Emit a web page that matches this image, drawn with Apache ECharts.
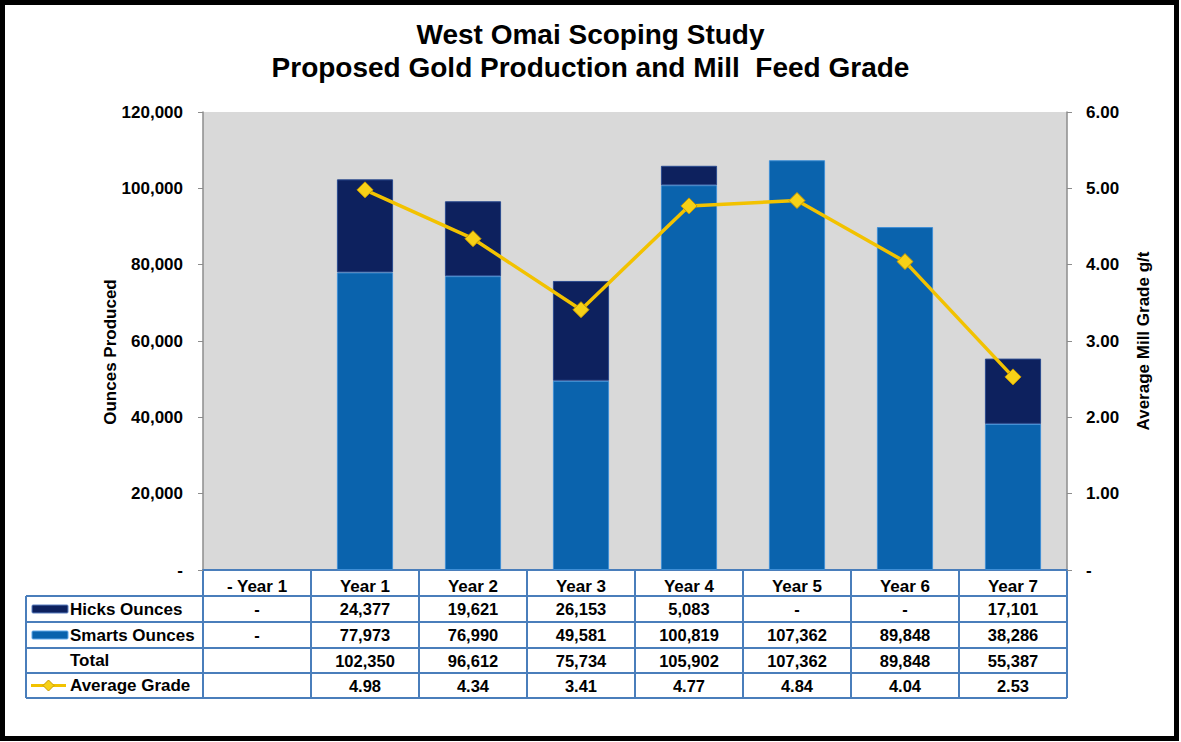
<!DOCTYPE html>
<html>
<head>
<meta charset="utf-8">
<script src="https://cdn.jsdelivr.net/npm/echarts@6/dist/echarts.min.js"></script>
<style>
  html, body { margin: 0; padding: 0; background: #fff; }
  #main { width: 1181px; height: 742px; }
</style>
</head>
<body>
<div id="main"></div>
<script>
// data
var years = ['- Year 1', 'Year 1', 'Year 2', 'Year 3', 'Year 4', 'Year 5', 'Year 6', 'Year 7'];
var hicksOz = [0, 24377, 19621, 26153, 5083, 0, 0, 17101];
var smartsOz = [0, 77973, 76990, 49581, 100819, 107362, 89848, 38286];
var totalOz = [null, 102350, 96612, 75734, 105902, 107362, 89848, 55387];
var avgGrade = [null, 4.98, 4.34, 3.41, 4.77, 4.84, 4.04, 2.53];

var FONT = 'Liberation Sans, Arial, sans-serif';
var gridLeft = 203, gridRight = 1067, gridTop = 112, gridBottom = 570;
var colW = (gridRight - gridLeft) / years.length;
var rowY = [570, 596, 622, 648, 673, 698];
var tableBlue = '#4a7ebb';
var navy = '#0d215e', blue = '#0a63ad', gold = '#f2c200';

function fmtOz(v) {
  if (v === null) return '';
  if (v === 0) return '-';
  return v.toLocaleString('en-US');
}
function fmtGrade(v) {
  return v === null ? '' : v.toFixed(2);
}
// zero segments are not drawn at all
function barData(arr) {
  return arr.map(function (v) { return v === 0 ? '-' : v; });
}

var chart = echarts.init(document.getElementById('main'), null, { renderer: 'svg' });

var graphics = [];
// outer frame
graphics.push({
  type: 'rect', shape: { x: 2.5, y: 2.5, width: 1174, height: 736 },
  style: { fill: 'none', stroke: '#000', lineWidth: 5 }, z: 10
});
// axis titles
graphics.push({
  type: 'text', x: 110, y: 352, rotation: Math.PI / 2,
  style: { text: 'Ounces Produced', font: 'bold 17px ' + FONT, fill: '#000', align: 'center', verticalAlign: 'middle' }
});
graphics.push({
  type: 'text', x: 1143, y: 341, rotation: Math.PI / 2,
  style: { text: 'Average Mill Grade g/t', font: 'bold 17px ' + FONT, fill: '#000', align: 'center', verticalAlign: 'middle' }
});

// data table lines
var lineStyle = { stroke: tableBlue, lineWidth: 2 };
graphics.push({ type: 'line', shape: { x1: gridLeft, y1: rowY[0], x2: gridRight, y2: rowY[0] }, style: lineStyle });
for (var r = 1; r < rowY.length; r++) {
  graphics.push({ type: 'line', shape: { x1: 26, y1: rowY[r], x2: gridRight, y2: rowY[r] }, style: lineStyle });
}
graphics.push({ type: 'line', shape: { x1: 26, y1: rowY[1], x2: 26, y2: rowY[5] }, style: lineStyle });
for (var c = 0; c <= years.length; c++) {
  var x = gridLeft + c * colW;
  graphics.push({ type: 'line', shape: { x1: x, y1: rowY[0], x2: x, y2: rowY[5] }, style: lineStyle });
}

// row labels + legend keys
var rowLabels = ['Hicks Ounces', 'Smarts Ounces', 'Total', 'Average Grade'];
for (var i = 0; i < rowLabels.length; i++) {
  var cy = (rowY[i + 1] + rowY[i + 2]) / 2;
  graphics.push({
    type: 'text', x: 70, y: cy,
    style: { text: rowLabels[i], font: 'bold 17px ' + FONT, fill: '#000', align: 'left', verticalAlign: 'middle' }
  });
}
graphics.push({ type: 'rect', shape: { x: 32, y: 605, width: 36, height: 8, r: 1 }, style: { fill: navy, stroke: '#5a7fc0', lineWidth: 1 } });
graphics.push({ type: 'rect', shape: { x: 32, y: 631, width: 36, height: 8, r: 1 }, style: { fill: blue, stroke: '#5fa8e8', lineWidth: 1 } });
graphics.push({ type: 'line', shape: { x1: 31, y1: 685.5, x2: 66, y2: 685.5 }, style: { stroke: gold, lineWidth: 3 } });
graphics.push({ type: 'polygon', shape: { points: [[48.5, 680], [54, 685.5], [48.5, 691], [43, 685.5]] }, style: { fill: '#f7d117', stroke: '#c99a00', lineWidth: 1 } });

// cell values
var rows = [
  hicksOz.map(function (v, k) { return k === 0 ? '-' : fmtOz(v); }),
  smartsOz.map(function (v, k) { return k === 0 ? '-' : fmtOz(v); }),
  totalOz.map(fmtOz),
  avgGrade.map(fmtGrade)
];
for (var rr = 0; rr < rows.length; rr++) {
  var yy = (rowY[rr + 1] + rowY[rr + 2]) / 2;
  for (var cc = 0; cc < years.length; cc++) {
    graphics.push({
      type: 'text', x: gridLeft + (cc + 0.5) * colW, y: yy,
      style: { text: rows[rr][cc], font: 'bold 16.5px ' + FONT, fill: '#000', align: 'center', verticalAlign: 'middle' }
    });
  }
}

var option = {
  backgroundColor: '#fff',
  animation: false,
  title: {
    text: 'West Omai Scoping Study\nProposed Gold Production and Mill  Feed Grade',
    left: 'center', top: 13,
    textStyle: { fontFamily: FONT, fontSize: 28, fontWeight: 'bold', color: '#000', lineHeight: 33 }
  },
  grid: {
    left: gridLeft, right: 1181 - gridRight, top: gridTop, bottom: 742 - gridBottom,
    show: true, backgroundColor: '#d9d9d9', borderWidth: 0
  },
  xAxis: {
    type: 'category',
    data: years,
    axisLine: { lineStyle: { color: tableBlue, width: 2 } },
    axisTick: { show: false },
    axisLabel: { margin: 8, fontFamily: FONT, fontSize: 17, fontWeight: 'bold', color: '#000' }
  },
  yAxis: [
    {
      type: 'value', min: 0, max: 120000, interval: 20000,
      axisLine: { show: true, lineStyle: { color: '#8c8c8c', width: 1.5 } },
      axisTick: { show: true, length: 5, lineStyle: { color: '#8c8c8c' } },
      splitLine: { show: false },
      axisLabel: {
        margin: 20, fontFamily: FONT, fontSize: 17, fontWeight: 'bold', color: '#000',
        formatter: function (v) { return v === 0 ? '-' : v.toLocaleString('en-US'); }
      }
    },
    {
      type: 'value', min: 0, max: 6, interval: 1,
      axisLine: { show: true, lineStyle: { color: '#8c8c8c', width: 1.5 } },
      axisTick: { show: true, length: 5, lineStyle: { color: '#8c8c8c' } },
      splitLine: { show: false },
      axisLabel: {
        margin: 19, fontFamily: FONT, fontSize: 17, fontWeight: 'bold', color: '#000',
        formatter: function (v) { return v === 0 ? '-' : v.toFixed(2); }
      }
    }
  ],
  series: [
    {
      name: 'Smarts Ounces', type: 'bar', stack: 'oz', barWidth: '52%',
      data: barData(smartsOz),
      itemStyle: { color: blue, borderColor: '#3f8fd6', borderWidth: 1 }
    },
    {
      name: 'Hicks Ounces', type: 'bar', stack: 'oz',
      data: barData(hicksOz),
      itemStyle: { color: navy, borderColor: '#2a4a8f', borderWidth: 1 }
    },
    {
      name: 'Average Grade', type: 'line', yAxisIndex: 1,
      data: avgGrade,
      symbol: 'diamond', symbolSize: 16,
      lineStyle: { color: gold, width: 3.5 },
      itemStyle: { color: '#f7d117', borderColor: '#c99a00', borderWidth: 1 },
      z: 5
    }
  ],
  graphic: graphics
};
chart.setOption(option);
</script>
</body>
</html>
